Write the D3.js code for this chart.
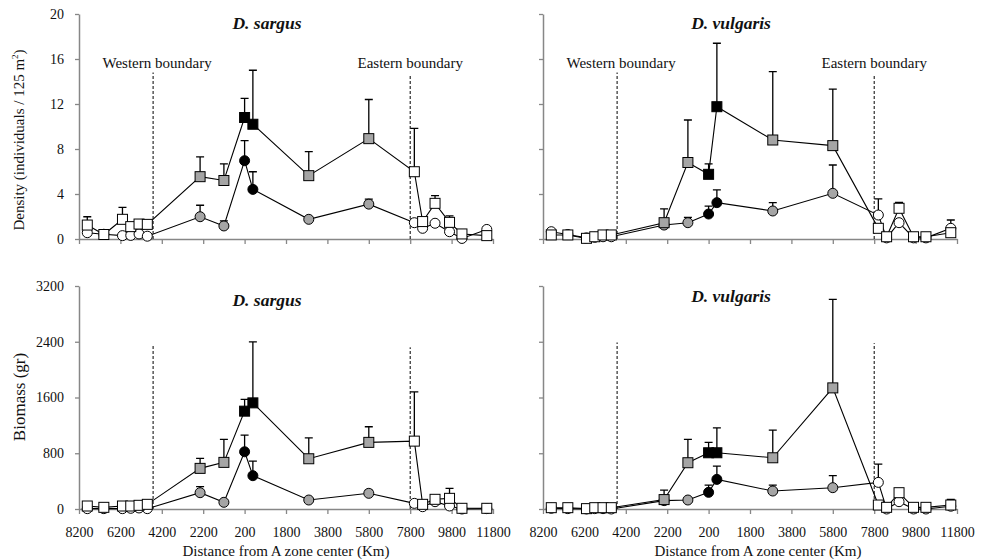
<!DOCTYPE html>
<html><head><meta charset="utf-8">
<script src="https://cdn.jsdelivr.net/npm/d3@7"></script>
<style>
body{margin:0;background:#fff}
svg{display:block}
text{font-family:"Liberation Serif","Times New Roman",serif;fill:#111}
</style>
</head><body>
<svg id="c" width="987" height="560"></svg>
<script>
// ---------- DATA ----------
// sampling sites: distance from A zone center (km); west negative, east positive
const sites = [-7800, -7000, -6100, -5700, -5300, -4900, -2350, -1200, -200, 200, 2900, 5800, 8000, 8400, 9000, 9700, 10300, 11500];
const zones = ["out","out","out","out","out","out","buffer","buffer","core","core","buffer","buffer","out","out","out","out","out","out"];
const xTickValues = [-8200, -6200, -4200, -2200, -200, 1800, 3800, 5800, 7800, 9800, 11800];
const densityTicks = [0, 4, 8, 12, 16, 20];
const biomassTicks = [0, 800, 1600, 2400, 3200];
const westBoundary = -4620;
const eastBoundary = 7800;

// D. sargus density (squares / circles), value and top of error bar (null = none)
const sargusDenSq     = [1.24, 0.40, 1.75, 1.10, 1.33, 1.30, 5.54, 5.20, 10.8, 10.2, 5.63, 8.92, 5.98, 1.55, 3.17, 1.48, 0.45, 0.30];
const sargusDenSqErr  = [1.98, null, 2.82, null, 1.62, null, 7.30, 6.67, 12.5, 15.0, 7.76, 12.4, 9.84, null, 3.85, 2.05, null, null];
const sargusDenCi     = [0.56, 0.42, 0.30, 0.32, 0.45, 0.25, 1.98, 1.16, 6.96, 4.41, 1.75, 3.10, 1.45, 0.95, 1.40, 0.65, 0.05, 0.85];
const sargusDenCiErr  = [null, null, null, null, null, null, 3.00, 1.62, 8.74, 5.98, null, 3.55, null, null, null, null, null, 1.05];

// D. vulgaris density
const vulgarisDenSq    = [0.36, 0.36, 0.06, 0.20, 0.36, 0.36, 1.45, 6.80, 5.75, 11.76, 8.80, 8.30, 0.95, 0.20, 2.73, 0.20, 0.20, 0.56];
const vulgarisDenSqErr = [null, null, null, null, null, null, 2.67, 10.58, 6.67, 17.4, 14.87, 13.33, null, null, 3.26, null, null, null];
const vulgarisDenCi    = [0.65, 0.40, 0.10, 0.15, 0.20, 0.20, 1.24, 1.45, 2.22, 3.23, 2.49, 4.06, 2.13, 0.10, 1.45, 0.10, 0.10, 0.95];
const vulgarisDenCiErr = [null, null, null, null, null, null, null, 1.93, 2.93, 4.36, 3.23, 6.58, 3.56, null, null, null, null, 1.69];

// D. sargus biomass (gr)
const sargusBioSq    = [43, 24, 43, 43, 53, 67, 583, 669, 1404, 1523, 721, 956, 974, 67, 139, 153, 10, 10];
const sargusBioSqErr = [null, null, null, null, null, null, 726, 999, 1572, 2398, 1022, 1180, 1681, null, null, 297, null, null];
const sargusBioCi    = [5, 5, 5, 10, 15, 5, 234, 96, 821, 478, 129, 225, 81, 33, 105, 43, 0, 5];
const sargusBioCiErr = [null, null, null, null, null, null, 320, null, 1060, 688, null, 272, null, null, null, null, null, null];

// D. vulgaris biomass (gr)
const vulgarisBioSq    = [19, 19, 5, 19, 19, 19, 135, 664, 807, 807, 735, 1738, 57, 24, 234, 24, 24, 57];
const vulgarisBioSqErr = [null, null, null, null, null, null, 272, 999, 956, 1165, 1132, 3009, null, null, null, null, null, 139];
const vulgarisBioCi    = [10, 5, 0, 5, 5, 0, 120, 129, 239, 425, 258, 306, 382, 0, 105, 0, 0, 40];
const vulgarisBioCiErr = [null, null, null, null, null, null, null, null, 344, 616, 344, 478, 645, null, null, null, null, null];

// ---------- LAYOUT ----------
const svg = d3.select("#c");
const colX = [79, 543], plotW = 414;
const rows = [{top: 14, bottom: 239}, {top: 286, bottom: 509}];
const fillFor = {out: "#ffffff", buffer: "#a5a5a5", core: "#000000"};
const axisColor = "#878787";

const panels = [
  {col: 0, row: 0, title: "D. sargus", sq: sargusDenSq, sqErr: sargusDenSqErr, ci: sargusDenCi, ciErr: sargusDenCiErr,
   ticks: densityTicks, yLabels: true, xLabels: false, bLabels: true, bTop: [14.8, 14.6], titleY: 29},
  {col: 1, row: 0, title: "D. vulgaris", sq: vulgarisDenSq, sqErr: vulgarisDenSqErr, ci: vulgarisDenCi, ciErr: vulgarisDenCiErr,
   ticks: densityTicks, yLabels: false, xLabels: false, bLabels: true, bTop: [14.8, 14.6], titleY: 29},
  {col: 0, row: 1, title: "D. sargus", sq: sargusBioSq, sqErr: sargusBioSqErr, ci: sargusBioCi, ciErr: sargusBioCiErr,
   ticks: biomassTicks, yLabels: true, xLabels: true, bLabels: false, bTop: [2350, 2320], titleY: 306},
  {col: 1, row: 1, title: "D. vulgaris", sq: vulgarisBioSq, sqErr: vulgarisBioSqErr, ci: vulgarisBioCi, ciErr: vulgarisBioCiErr,
   ticks: biomassTicks, yLabels: false, xLabels: true, bLabels: false, bTop: [2390, 2380], titleY: 302}
];

panels.forEach(p => {
  const x0 = colX[p.col], r = rows[p.row];
  const x = d3.scaleLinear().domain([-8200, 11800]).range([x0, x0 + plotW]);
  const y = d3.scaleLinear().domain([0, d3.max(p.ticks)]).range([r.bottom, r.top]);
  const g = svg.append("g");

  // axes
  const xa = d3.axisBottom(x).tickValues(xTickValues).tickSize(5).tickSizeOuter(0).tickPadding(13)
    .tickFormat(d => p.xLabels ? String(Math.abs(d)) : "");
  const gx = g.append("g").attr("transform", `translate(0,${r.bottom})`).call(xa);
  const ya = d3.axisLeft(y).tickValues(p.ticks).tickSize(4).tickSizeOuter(0).tickPadding(11)
    .tickFormat(d => p.yLabels ? String(d) : "");
  const gy = g.append("g").attr("transform", `translate(${x0},0)`).call(ya);
  [gx, gy].forEach(a => {
    a.select(".domain").attr("stroke", axisColor).attr("stroke-width", 1.5);
    a.selectAll(".tick line").attr("stroke", axisColor).attr("stroke-width", 1.3);
    a.selectAll(".tick text").attr("font-size", 14).attr("fill", "#111")
      .style("font-family", '"Liberation Serif","Times New Roman",serif');
  });

  // boundary dashed lines
  [[westBoundary, p.bTop[0]], [eastBoundary, p.bTop[1]]].forEach(([b, t]) => {
    g.append("line").attr("x1", x(b)).attr("x2", x(b)).attr("y1", y(0)).attr("y2", y(t))
      .attr("stroke", "#000").attr("stroke-width", 1).attr("stroke-dasharray", "3,2");
  });
  if (p.bLabels) {
    g.append("text").attr("x", x(westBoundary) + 4).attr("y", 68).attr("text-anchor", "middle")
      .attr("font-size", 15).text("Western boundary");
    g.append("text").attr("x", x(eastBoundary)).attr("y", 68).attr("text-anchor", "middle")
      .attr("font-size", 15).text("Eastern boundary");
  }

  // title
  g.append("text").attr("x", x0 + plotW / 2 - 19).attr("y", p.titleY).attr("text-anchor", "middle")
    .attr("font-size", 17.5).attr("font-weight", "bold").attr("font-style", "italic").text(p.title);

  // series: circles then squares
  const drawSeries = (vals, errs, shape) => {
    const pts = sites.map((s, i) => ({s, v: vals[i], e: errs[i], z: zones[i]}));
    g.append("path").datum(pts)
      .attr("d", d3.line().x(d => x(d.s)).y(d => y(d.v)))
      .attr("fill", "none").attr("stroke", "#000").attr("stroke-width", 1.1);
    const eb = pts.filter(d => d.e != null);
    g.selectAll(null).data(eb).enter().append("path")
      .attr("d", d => `M${x(d.s)},${y(d.v)}V${y(d.e)}M${x(d.s) - 4},${y(d.e)}H${x(d.s) + 4}`)
      .attr("stroke", "#000").attr("stroke-width", 1.3).attr("fill", "none");
    if (shape === "circle") {
      g.selectAll(null).data(pts).enter().append("circle")
        .attr("cx", d => x(d.s)).attr("cy", d => y(d.v)).attr("r", 5)
        .attr("fill", d => fillFor[d.z]).attr("stroke", "#000").attr("stroke-width", 1);
    } else {
      g.selectAll(null).data(pts).enter().append("rect")
        .attr("x", d => x(d.s) - 5).attr("y", d => y(d.v) - 5).attr("width", 10).attr("height", 10)
        .attr("fill", d => fillFor[d.z]).attr("stroke", "#000").attr("stroke-width", 1);
    }
  };
  drawSeries(p.ci, p.ciErr, "circle");
  drawSeries(p.sq, p.sqErr, "square");

  if (p.xLabels) {
    g.append("text").attr("x", x0 + plotW / 2 + (p.col ? 8 : 0)).attr("y", 556).attr("text-anchor", "middle")
      .attr("font-size", 15).text("Distance from A zone center (Km)");
  }
});

// y-axis titles
const dens = svg.append("text").attr("transform", "translate(24,140) rotate(-90)").attr("text-anchor", "middle")
  .attr("font-size", 15);
dens.append("tspan").text("Density (individuals / 125 m");
dens.append("tspan").attr("font-size", 9).attr("dy", -6).text("2");
dens.append("tspan").attr("dy", 6).text(")");
svg.append("text").attr("transform", "translate(25,397) rotate(-90)").attr("text-anchor", "middle")
  .attr("font-size", 17).text("Biomass (gr)");
</script>
</body></html>
